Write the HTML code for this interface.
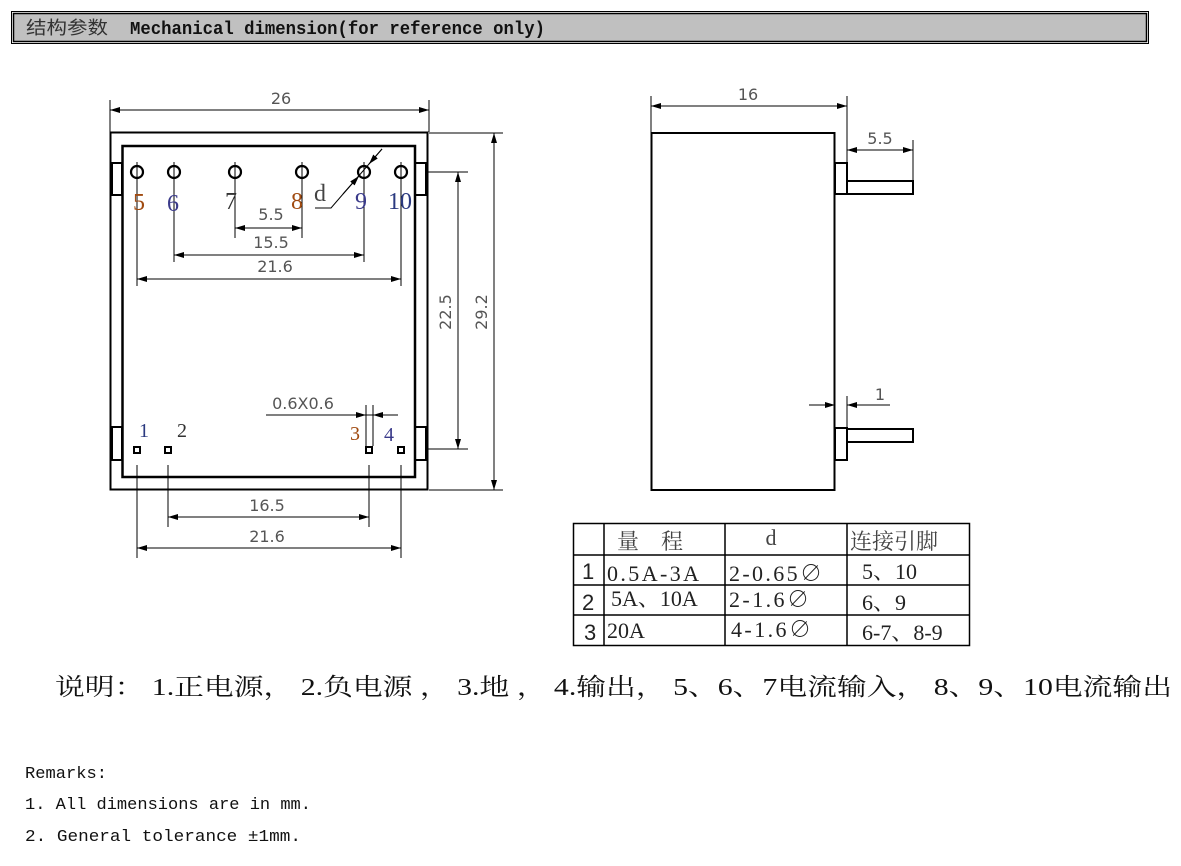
<!DOCTYPE html>
<html><head><meta charset="utf-8"><style>
html,body{margin:0;padding:0;background:#fff;}
svg{display:block}
.dim{font-family:"DejaVu Sans","Liberation Sans",sans-serif;font-size:16px;fill:#555;}
.pin{font-family:"Liberation Serif",serif;font-size:24px;}
.cj{font-family:"Liberation Serif","Noto Serif CJK SC",serif;font-size:21px;fill:#111;}
.mono{font-family:"Liberation Mono","Noto Sans CJK SC",monospace;font-size:16px;fill:#111;}
</style></head><body>
<svg width="1181" height="866" viewBox="0 0 1181 866" xmlns="http://www.w3.org/2000/svg">
<defs>
<marker id="a" viewBox="0 0 10 6" refX="10" refY="3" markerWidth="10" markerHeight="6" markerUnits="userSpaceOnUse" orient="auto-start-reverse"><path d="M0,0 L10,3 L0,6 z" fill="#000"/></marker>
</defs>
<!-- header -->
<rect x="11.5" y="11.5" width="1137" height="32" fill="none" stroke="#000" stroke-width="1"/>
<rect x="13.5" y="13.5" width="1133" height="28" fill="#c0c0c0" stroke="#000" stroke-width="1.5"/>
<text x="26" y="34" style="font-family:'Noto Sans CJK SC',sans-serif;font-size:18px" fill="#333" textLength="82" lengthAdjust="spacingAndGlyphs">结构参数</text>
<text x="130" y="34" style="font-family:'Liberation Mono',monospace;font-size:18px;font-weight:bold" fill="#111" textLength="415" lengthAdjust="spacingAndGlyphs">Mechanical dimension(for reference only)</text>

<g stroke="#000" fill="none">
<!-- front view -->
<rect x="110.5" y="132.5" width="317" height="357" stroke-width="2"/>
<rect x="122.5" y="146" width="292.5" height="331" stroke-width="2.5"/>
<rect x="112" y="163" width="10" height="32" stroke-width="2"/>
<rect x="112" y="427" width="10" height="33" stroke-width="2"/>
<rect x="415" y="163" width="11" height="32" stroke-width="2"/>
<rect x="415" y="427" width="11" height="33" stroke-width="2"/>
<g stroke-width="2.2">
<circle cx="137" cy="172" r="6"/><circle cx="174" cy="172" r="6"/><circle cx="235" cy="172" r="6"/>
<circle cx="302" cy="172" r="6"/><circle cx="364" cy="172" r="6"/><circle cx="401" cy="172" r="6"/>
</g>
<g stroke-width="1">
<line x1="137" y1="162" x2="137" y2="286"/><line x1="401" y1="162" x2="401" y2="286"/>
<line x1="174" y1="162" x2="174" y2="262"/><line x1="364" y1="162" x2="364" y2="262"/>
<line x1="235" y1="162" x2="235" y2="238"/><line x1="302" y1="162" x2="302" y2="238"/>
<line x1="235" y1="228" x2="302" y2="228" marker-start="url(#a)" marker-end="url(#a)"/>
<line x1="174" y1="255" x2="364" y2="255" marker-start="url(#a)" marker-end="url(#a)"/>
<line x1="137" y1="279" x2="401" y2="279" marker-start="url(#a)" marker-end="url(#a)"/>
<line x1="110" y1="100" x2="110" y2="132"/><line x1="429" y1="100" x2="429" y2="132"/>
<line x1="110" y1="110" x2="429" y2="110" marker-start="url(#a)" marker-end="url(#a)"/>
<polyline points="315,208 331,208 382,149"/>
<line x1="343" y1="194" x2="359" y2="176" marker-end="url(#a)"/>
<line x1="382" y1="149" x2="369" y2="164" marker-end="url(#a)"/>
<line x1="428" y1="172" x2="468" y2="172"/><line x1="428" y1="449" x2="468" y2="449"/>
<line x1="458" y1="172" x2="458" y2="449" marker-start="url(#a)" marker-end="url(#a)"/>
<line x1="429" y1="133" x2="503" y2="133"/><line x1="429" y1="490" x2="503" y2="490"/>
<line x1="494" y1="133" x2="494" y2="490" marker-start="url(#a)" marker-end="url(#a)"/>
<line x1="266" y1="415" x2="398" y2="415"/>
<line x1="356" y1="415" x2="366" y2="415" marker-end="url(#a)"/>
<line x1="383" y1="415" x2="373" y2="415" marker-end="url(#a)"/>
<line x1="366" y1="405" x2="366" y2="446"/><line x1="373" y1="405" x2="373" y2="446"/>
<line x1="137" y1="465" x2="137" y2="558"/><line x1="401" y1="465" x2="401" y2="558"/>
<line x1="168" y1="465" x2="168" y2="527"/><line x1="369" y1="465" x2="369" y2="527"/>
<line x1="168" y1="517" x2="369" y2="517" marker-start="url(#a)" marker-end="url(#a)"/>
<line x1="137" y1="548" x2="401" y2="548" marker-start="url(#a)" marker-end="url(#a)"/>
</g>
<g stroke-width="2">
<rect x="134" y="447" width="6" height="6"/><rect x="165" y="447" width="6" height="6"/>
<rect x="366" y="447" width="6" height="6"/><rect x="398" y="447" width="6" height="6"/>
</g>

<!-- side view -->
<rect x="651.5" y="133" width="183" height="357" stroke-width="2"/>
<rect x="835" y="163" width="12" height="31" stroke-width="2"/>
<rect x="835" y="428" width="12" height="32" stroke-width="2"/>
<rect x="847" y="181" width="66" height="13" stroke-width="2"/>
<rect x="847" y="429" width="66" height="13" stroke-width="2"/>
<g stroke-width="1">
<line x1="651" y1="96" x2="651" y2="133"/><line x1="847" y1="96" x2="847" y2="163"/>
<line x1="651" y1="106" x2="847" y2="106" marker-start="url(#a)" marker-end="url(#a)"/>
<line x1="913" y1="140" x2="913" y2="181"/>
<line x1="847" y1="150" x2="913" y2="150" marker-start="url(#a)" marker-end="url(#a)"/>
<line x1="847" y1="396" x2="847" y2="428"/>
<line x1="809" y1="405" x2="835" y2="405" marker-end="url(#a)"/>
<line x1="890" y1="405" x2="847" y2="405" marker-end="url(#a)"/>
</g>

<g stroke-width="1.5">
<rect x="573.5" y="523.5" width="396" height="122"/>
<line x1="573" y1="555" x2="969" y2="555"/><line x1="573" y1="585" x2="969" y2="585"/><line x1="573" y1="615" x2="969" y2="615"/>
<line x1="604" y1="523" x2="604" y2="646"/><line x1="725" y1="523" x2="725" y2="646"/><line x1="847" y1="523" x2="847" y2="646"/>
</g>
</g>

<g class="dim" text-anchor="middle">
<text x="281" y="104">26</text>
<text x="271" y="220">5.5</text>
<text x="271" y="248">15.5</text>
<text x="275" y="272">21.6</text>
<text x="303" y="409">0.6X0.6</text>
<text x="267" y="511">16.5</text>
<text x="267" y="542">21.6</text>
<text x="748" y="100">16</text>
<text x="880" y="144">5.5</text>
<text x="880" y="400">1</text>
<text transform="translate(451,312) rotate(-90)">22.5</text>
<text transform="translate(487,312) rotate(-90)">29.2</text>
</g>
<text x="314" y="201" class="pin" fill="#444" font-size="19">d</text>
<g class="pin" text-anchor="middle">
<text x="139" y="210" fill="#a04a10">5</text><text x="173" y="211" fill="#3a3a8a">6</text>
<text x="231" y="209" fill="#333">7</text><text x="297" y="209" fill="#a04a10">8</text>
<text x="361" y="209" fill="#3a3a8a">9</text><text x="400" y="209" fill="#2b3a80">10</text>
<text x="144" y="437" font-size="20" fill="#2b3a80">1</text><text x="182" y="437" font-size="20" fill="#333">2</text>
<text x="355" y="440" font-size="20" fill="#a04a10">3</text><text x="389" y="441" font-size="20" fill="#3a3a8a">4</text>
</g>

<g style="font-family:'Liberation Serif','Noto Serif CJK SC',serif;font-size:22px" fill="#222">
<text x="617" y="549" fill="#444">量　程</text>
<text x="771" y="545" text-anchor="middle" fill="#444">d</text>
<text x="850" y="549" fill="#444">连接引脚</text>
<g style="font-family:'Liberation Sans',sans-serif;font-size:22px"><text x="582" y="579">1</text><text x="582" y="610">2</text><text x="584" y="640">3</text></g>
<text x="607" y="581" textLength="92">0.5A-3A</text>
<text x="611" y="606">5A、10A</text>
<text x="607" y="638">20A</text>
<text x="729" y="581" textLength="93">2-0.65∅</text>
<text x="729" y="607" textLength="80">2-1.6∅</text>
<text x="731" y="637" textLength="80">4-1.6∅</text>
<text x="862" y="579">5、10</text>
<text x="862" y="610">6、9</text>
<text x="862" y="640">6-7、8-9</text>
</g>

<text x="55" y="695" class="cj" style="font-size:24px" textLength="1117" lengthAdjust="spacingAndGlyphs">说明： 1.正电源， 2.负电源 ， 3.地 ， 4.输出， 5、6、7电流输入， 8、9、10电流输出</text>

<text x="25" y="778" class="mono" style="font-size:17px" textLength="82" lengthAdjust="spacingAndGlyphs">Remarks:</text>
<text x="25" y="809" class="mono" style="font-size:17px" textLength="286" lengthAdjust="spacingAndGlyphs">1. All dimensions are in mm.</text>
<text x="25" y="841" class="mono" style="font-size:17px" textLength="276" lengthAdjust="spacingAndGlyphs">2. General tolerance ±1mm.</text>
</svg>
</body></html>
